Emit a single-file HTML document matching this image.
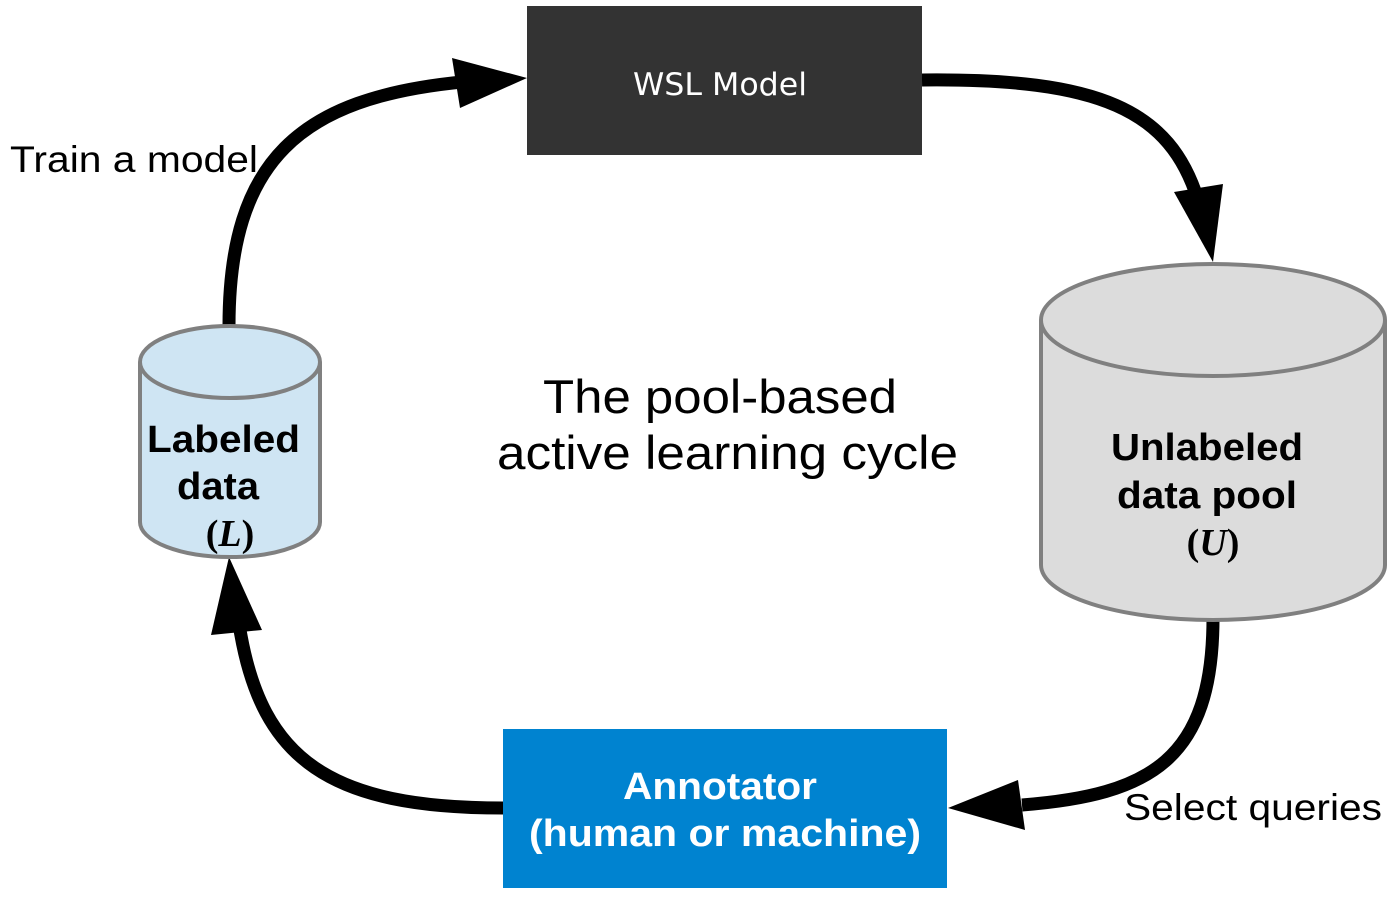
<!DOCTYPE html>
<html><head><meta charset="utf-8"><style>
html,body{margin:0;padding:0;background:#fff;}
svg{display:block;}
</style></head><body>
<svg width="1400" height="900" viewBox="0 0 1400 900" xmlns="http://www.w3.org/2000/svg">
<g fill="none" stroke="#000" stroke-width="13">
<path d="M229,326 C229,160 300,98 462,82"/>
<path d="M922,80 C1100,78 1170,110 1198,200"/>
<path d="M1213,618 C1213,760 1150,795 1022,805"/>
<path d="M503,808 C330,808 262,760 240,630"/>
</g>
<g fill="#000">
<polygon points="452,58 527,78 460,108"/>
<polygon points="1174,192 1213,262 1223,184"/>
<polygon points="1018,780 948,808 1025,830"/>
<polygon points="211,635 229,557 262,630"/>
</g>
<rect x="527" y="6" width="395" height="149" fill="#333333"/>
<text x="633" y="95" fill="#fff" font-family="DejaVu Sans, sans-serif" font-size="31" textLength="174" lengthAdjust="spacingAndGlyphs">WSL Model</text>
<rect x="503" y="729" width="444" height="159" fill="#0083d0"/>
<text x="623" y="799" fill="#fff" font-family="Liberation Sans, sans-serif" font-weight="bold" font-size="38" textLength="194" lengthAdjust="spacingAndGlyphs">Annotator</text>
<text x="529" y="846" fill="#fff" font-family="Liberation Sans, sans-serif" font-weight="bold" font-size="38" textLength="392" lengthAdjust="spacingAndGlyphs">(human or machine)</text>
<path d="M140,362 L140,522 A90,35 0 0 0 320,522 L320,362" fill="#cfe5f3" stroke="#808080" stroke-width="4"/>
<ellipse cx="230" cy="362" rx="90" ry="36" fill="#cfe5f3" stroke="#808080" stroke-width="4"/>
<text x="147" y="452" font-family="Liberation Sans, sans-serif" font-weight="bold" font-size="38" textLength="153" lengthAdjust="spacingAndGlyphs">Labeled</text>
<text x="177" y="499" font-family="Liberation Sans, sans-serif" font-weight="bold" font-size="38" textLength="82" lengthAdjust="spacingAndGlyphs">data</text>
<text x="230" y="546" font-family="Liberation Serif, serif" font-weight="bold" font-size="38" text-anchor="middle">(<tspan font-style="italic">L</tspan>)</text>
<path d="M1041,320 L1041,565 A172,55 0 0 0 1385,565 L1385,320" fill="#dcdcdc" stroke="#808080" stroke-width="4"/>
<ellipse cx="1213" cy="320" rx="172" ry="56" fill="#dcdcdc" stroke="#808080" stroke-width="4"/>
<text x="1111" y="460" font-family="Liberation Sans, sans-serif" font-weight="bold" font-size="38" textLength="192" lengthAdjust="spacingAndGlyphs">Unlabeled</text>
<text x="1117" y="508" font-family="Liberation Sans, sans-serif" font-weight="bold" font-size="38" textLength="180" lengthAdjust="spacingAndGlyphs">data pool</text>
<text x="1213" y="555" font-family="Liberation Serif, serif" font-weight="bold" font-size="38" text-anchor="middle">(<tspan font-style="italic">U</tspan>)</text>
<text x="543" y="413" font-family="Liberation Sans, sans-serif" font-size="47" textLength="354" lengthAdjust="spacingAndGlyphs">The pool-based</text>
<text x="497" y="469" font-family="Liberation Sans, sans-serif" font-size="47" textLength="461" lengthAdjust="spacingAndGlyphs">active learning cycle</text>
<text x="10" y="172" font-family="Liberation Sans, sans-serif" font-size="37" textLength="248" lengthAdjust="spacingAndGlyphs">Train a model</text>
<text x="1124" y="820" font-family="Liberation Sans, sans-serif" font-size="37" textLength="258" lengthAdjust="spacingAndGlyphs">Select queries</text>
</svg>
</body></html>
